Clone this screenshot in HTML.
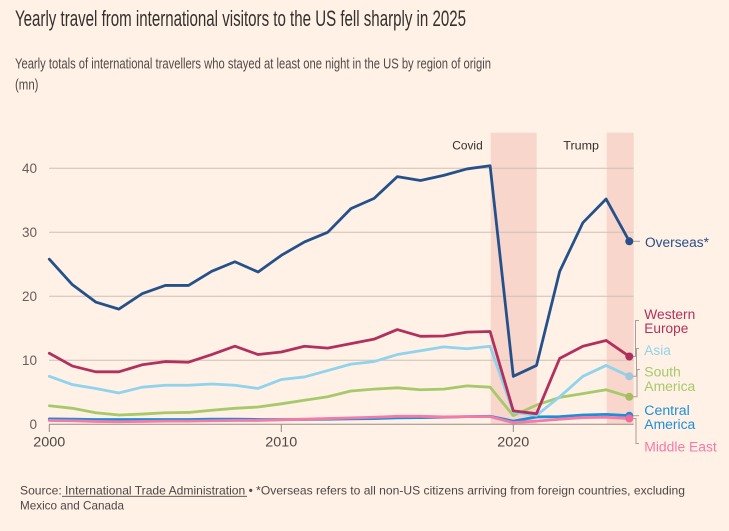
<!DOCTYPE html>
<html>
<head>
<meta charset="utf-8">
<style>
  html,body{margin:0;padding:0;background:#fff1e5;}
  svg{display:block;}
  text{font-family:"Liberation Sans",sans-serif;}
</style>
</head>
<body>
<svg width="729" height="531" viewBox="0 0 729 531" xmlns="http://www.w3.org/2000/svg">
  <rect x="0" y="0" width="729" height="531" fill="#fff1e5"/>

  <!-- Title & subtitle -->
  <text x="15" y="26" font-size="22" fill="#33302e" textLength="451" lengthAdjust="spacingAndGlyphs">Yearly travel from international visitors to the US fell sharply in 2025</text>
  <text x="15" y="68.5" font-size="14.5" fill="#4f4a47" textLength="476" lengthAdjust="spacingAndGlyphs">Yearly totals of international travellers who stayed at least one night in the US by region of origin</text>
  <text x="15" y="89.5" font-size="14.5" fill="#4f4a47" textLength="23.5" lengthAdjust="spacingAndGlyphs">(mn)</text>

  <!-- Shaded bands -->
  <rect x="490.7" y="132.7" width="46" height="291.6" fill="#f8d6cc"/>
  <rect x="606.7" y="132.7" width="27" height="291.6" fill="#f8d6cc"/>
  <text x="452.3" y="149.3" font-size="12" fill="#33302e" textLength="30.4" lengthAdjust="spacingAndGlyphs">Covid</text>
  <text x="563.3" y="149.3" font-size="12" fill="#33302e" textLength="35.7" lengthAdjust="spacingAndGlyphs">Trump</text>

  <!-- Gridlines -->
  <g stroke="#cdbfb5" stroke-width="1">
    <line x1="49" y1="168.3" x2="633.7" y2="168.3"/>
    <line x1="49" y1="232.3" x2="633.7" y2="232.3"/>
    <line x1="49" y1="296.3" x2="633.7" y2="296.3"/>
    <line x1="49" y1="360.3" x2="633.7" y2="360.3"/>
  </g>
  <!-- Axis -->
  <g stroke="#958a83" stroke-width="1">
    <line x1="49" y1="424.3" x2="633.7" y2="424.3"/>
    <line x1="49.3" y1="424.3" x2="49.3" y2="432"/>
    <line x1="281.3" y1="424.3" x2="281.3" y2="432"/>
    <line x1="513.3" y1="424.3" x2="513.3" y2="432"/>
  </g>

  <!-- Y labels -->
  <g font-size="13.5" fill="#66605c" text-anchor="end">
    <text x="37" y="173">40</text>
    <text x="37" y="237">30</text>
    <text x="37" y="301">20</text>
    <text x="37" y="365">10</text>
    <text x="37" y="429">0</text>
  </g>
  <!-- X labels -->
  <g font-size="13.5" fill="#4d4845">
    <text x="33.3" y="446.5" textLength="32" lengthAdjust="spacingAndGlyphs">2000</text>
    <text x="265.3" y="446.5" textLength="32" lengthAdjust="spacingAndGlyphs">2010</text>
    <text x="497.3" y="446.5" textLength="32" lengthAdjust="spacingAndGlyphs">2020</text>
  </g>

  <!-- Series -->
  <g transform="translate(49.3,424.3) scale(23.2,-6.4)" fill="none" stroke-width="2.8" stroke-linejoin="round" stroke-linecap="round">
    <polyline vector-effect="non-scaling-stroke" stroke="#1d8fd8" points="0,0.85 1,0.8 2,0.75 3,0.75 4,0.75 5,0.75 6,0.75 7,0.8 8,0.8 9,0.75 10,0.75 11,0.75 12,0.8 13,0.85 14,0.9 15,1.0 16,1.05 17,1.1 18,1.2 19,1.25 20,0.5 21,1.15 22,1.2 23,1.45 24,1.55 25,1.35"/>
    <polyline vector-effect="non-scaling-stroke" stroke="#f57aa8" points="0,0.6 1,0.55 2,0.45 3,0.4 4,0.45 5,0.5 6,0.5 7,0.55 8,0.6 9,0.6 10,0.7 11,0.8 12,0.9 13,1.0 14,1.1 15,1.25 16,1.25 17,1.15 18,1.2 19,1.2 20,0.25 21,0.5 22,0.8 23,1.05 24,1.1 25,0.9"/>
    <polyline vector-effect="non-scaling-stroke" stroke="#a6c96a" points="0,2.9 1,2.5 2,1.8 3,1.45 4,1.6 5,1.8 6,1.85 7,2.2 8,2.5 9,2.7 10,3.2 11,3.75 12,4.3 13,5.2 14,5.5 15,5.7 16,5.4 17,5.5 18,6.0 19,5.8 20,1.35 21,3.0 22,4.2 23,4.8 24,5.4 25,4.3"/>
    <polyline vector-effect="non-scaling-stroke" stroke="#90d3ec" points="0,7.5 1,6.2 2,5.6 3,4.9 4,5.8 5,6.1 6,6.1 7,6.3 8,6.1 9,5.6 10,7.0 11,7.4 12,8.4 13,9.4 14,9.8 15,10.9 16,11.5 17,12.1 18,11.8 19,12.2 20,1.9 21,1.4 22,4.3 23,7.5 24,9.2 25,7.5"/>
    <polyline vector-effect="non-scaling-stroke" stroke="#b2305e" points="0,11.1 1,9.1 2,8.2 3,8.2 4,9.3 5,9.8 6,9.7 7,10.9 8,12.2 9,10.9 10,11.3 11,12.2 12,11.9 13,12.6 14,13.3 15,14.8 16,13.75 17,13.8 18,14.4 19,14.5 20,2.1 21,1.66 22,10.3 23,12.2 24,13.1 25,10.6"/>
    <polyline vector-effect="non-scaling-stroke" stroke="#25518b" points="0,25.8 1,21.8 2,19.1 3,18.0 4,20.4 5,21.7 6,21.7 7,23.9 8,25.4 9,23.8 10,26.4 11,28.5 12,30.0 13,33.7 14,35.3 15,38.7 16,38.1 17,38.9 18,39.9 19,40.4 20,7.5 21,9.2 22,23.9 23,31.5 24,35.2 25,28.6"/>
  </g>

  <!-- Connector brackets -->
  <g fill="none" stroke="#a89f98" stroke-width="1">
    <path d="M633 241.3 H640"/>
    <path d="M633 356.5 H635.5 V320.5 H639"/>
    <path d="M633 376.3 H636.5 V348.5 H639"/>
    <path d="M633 396.8 H637 V369.5 H640"/>
    <path d="M633 415.7 H639"/>
    <path d="M633 418.5 H636 V443.5 H639"/>
  </g>

  <!-- End dots -->
  <circle cx="629.3" cy="415.7" r="4" fill="#1d8fd8"/>
  <circle cx="629.3" cy="418.5" r="4" fill="#f46b9b"/>
  <circle cx="629.3" cy="396.8" r="4" fill="#a9bc62"/>
  <circle cx="629.3" cy="376.3" r="4" fill="#9fc8de"/>
  <circle cx="629.3" cy="356.5" r="4" fill="#b02e5b"/>
  <circle cx="629.3" cy="241.3" r="4" fill="#27508a"/>

  <!-- Series labels -->
  <g font-size="13.5">
    <text x="645" y="247" fill="#27508a" textLength="64" lengthAdjust="spacingAndGlyphs">Overseas*</text>
    <text x="644.3" y="319" fill="#b2305e" textLength="51" lengthAdjust="spacingAndGlyphs">Western</text>
    <text x="644.3" y="333" fill="#b2305e" textLength="44" lengthAdjust="spacingAndGlyphs">Europe</text>
    <text x="644.3" y="355" fill="#90d3ec" textLength="26.5" lengthAdjust="spacingAndGlyphs">Asia</text>
    <text x="644.3" y="376.7" fill="#a6c96a" textLength="36.5" lengthAdjust="spacingAndGlyphs">South</text>
    <text x="644.3" y="391" fill="#a6c96a" textLength="51" lengthAdjust="spacingAndGlyphs">America</text>
    <text x="644.3" y="415" fill="#1d8fd8" textLength="45.5" lengthAdjust="spacingAndGlyphs">Central</text>
    <text x="644.3" y="429" fill="#1d8fd8" textLength="51" lengthAdjust="spacingAndGlyphs">America</text>
    <text x="644.3" y="451.5" fill="#f57aa8" textLength="72.5" lengthAdjust="spacingAndGlyphs">Middle East</text>
  </g>

  <!-- Footer -->
  <text x="20" y="494.3" font-size="12" fill="#4d4845" textLength="665" lengthAdjust="spacingAndGlyphs">Source: International Trade Administration • *Overseas refers to all non-US citizens arriving from foreign countries, excluding</text>
  <line x1="62" y1="496.3" x2="247" y2="496.3" stroke="#4d4845" stroke-width="0.9"/>
  <text x="20" y="509.5" font-size="12" fill="#4d4845" textLength="104" lengthAdjust="spacingAndGlyphs">Mexico and Canada</text>
</svg>
</body>
</html>
